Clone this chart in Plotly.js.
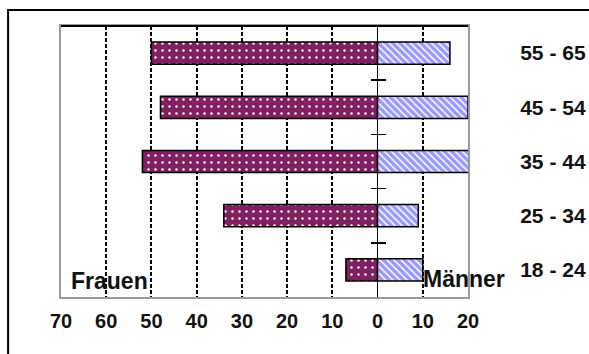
<!DOCTYPE html>
<html>
<head>
<meta charset="utf-8">
<script src="https://cdn.plot.ly/plotly-3.0.1.min.js"></script>
<style>html,body{margin:0;padding:0;background:#fff;}#chart{width:589px;height:354px;}</style>
</head>
<body>
<div id="chart"></div>
<script>
// categories bottom to top
var ageGroups = ["18 - 24", "25 - 34", "35 - 44", "45 - 54", "55 - 65"];
var frauen = [7, 34, 52, 48, 50];   // shown to the left (negative)
var maenner = [10, 9, 21, 20, 16];
var xTickVals = [-70, -60, -50, -40, -30, -20, -10, 0, 10, 20];
var xTickText = ["70", "60", "50", "40", "30", "20", "10", "0", "10", "20"];
var labelFrauen = "Frauen";
var labelMaenner = "Männer";

var FONT = "Liberation Sans, Arial, sans-serif";
var xMin = -70, xMax = 20;
var plotW = 589 - 61 - 121;
var zeroPos = (0 - xMin) / (xMax - xMin);

var traces = [
  {
    type: "bar", orientation: "h", name: labelFrauen,
    y: ageGroups, x: frauen.map(function (v) { return -v; }),
    xaxis: "x", yaxis: "y",
    marker: {
      color: "#802060",
      line: {color: "#000", width: 1.5},
      pattern: {shape: ".", fillmode: "replace", bgcolor: "#802060", fgcolor: "#ffffff", size: 7, solidity: 0.1}
    },
    hoverinfo: "skip"
  },
  {
    type: "bar", orientation: "h", name: labelMaenner,
    y: ageGroups, x: maenner,
    xaxis: "x", yaxis: "y2",
    marker: {
      color: "#9999FF",
      line: {color: "#000", width: 1.5},
      pattern: {shape: "\\", fillmode: "replace", bgcolor: "#9999FF", fgcolor: "#ffffff", size: 5, solidity: 0.3}
    },
    hoverinfo: "skip"
  }
];

var catAxisCommon = {
  type: "category",
  categoryorder: "array",
  categoryarray: ageGroups,
  range: [-0.5, ageGroups.length - 0.5],
  fixedrange: true
};

var layout = {
  width: 589, height: 354,
  margin: {l: 61, r: 121, t: 26, b: 57, pad: 0},
  paper_bgcolor: "#ffffff",
  plot_bgcolor: "#ffffff",
  showlegend: false,
  barmode: "overlay",
  bargap: 0.59,
  font: {family: FONT, color: "#111", size: 20},
  xaxis: {
    range: [xMin, xMax],
    tickmode: "array", tickvals: xTickVals, ticktext: xTickText,
    ticks: "", ticklabelstandoff: 5,
    tickfont: {family: FONT, size: 20, color: "#111", weight: "bold"},
    showgrid: true, gridcolor: "#000", gridwidth: 2, griddash: "4px,2px",
    zeroline: true, zerolinecolor: "#000", zerolinewidth: 1.5,
    showline: true, linecolor: "#999", linewidth: 2, mirror: true,
    fixedrange: true
  },
  yaxis: Object.assign({}, catAxisCommon, {
    side: "right",
    ticks: "", ticklabelstandoff: 46,
    tickfont: {family: FONT, size: 21, color: "#111", weight: "bold"},
    showgrid: false, zeroline: false,
    showline: true, linecolor: "#999", linewidth: 2, mirror: true
  }),
  yaxis2: Object.assign({}, catAxisCommon, {
    overlaying: "y", anchor: "free", position: zeroPos - 7.5 / plotW, side: "left",
    tickson: "boundaries", ticks: "inside", ticklen: 15, tickwidth: 1.5, tickcolor: "#000",
    showticklabels: false, showgrid: false, zeroline: false, showline: false
  }),
  annotations: [
    {text: labelFrauen, xref: "paper", yref: "paper", x: 0, y: 0, xanchor: "left", yanchor: "bottom",
     xshift: 8, yshift: 1, showarrow: false,
     font: {family: FONT, size: 23, color: "#111", weight: "bold"}},
    {text: labelMaenner, xref: "x", yref: "paper", x: 10, y: 0, xanchor: "left", yanchor: "bottom",
     xshift: -2, yshift: 3, showarrow: false,
     font: {family: FONT, size: 23, color: "#111", weight: "bold"}}
  ],
  shapes: [
    {type: "rect", xref: "paper", yref: "paper", x0: -0.13, x1: 2, y0: -2, y1: 1.059,
     line: {color: "#000", width: 2}, fillcolor: "rgba(0,0,0,0)", layer: "below"},
    {type: "line", xref: "paper", yref: "paper", x0: 0, x1: 1, y0: 1, y1: 1,
     line: {color: "#000", width: 2}, layer: "above"}
  ]
};

Plotly.newPlot("chart", traces, layout, {displayModeBar: false, staticPlot: true});
</script>
</body>
</html>
